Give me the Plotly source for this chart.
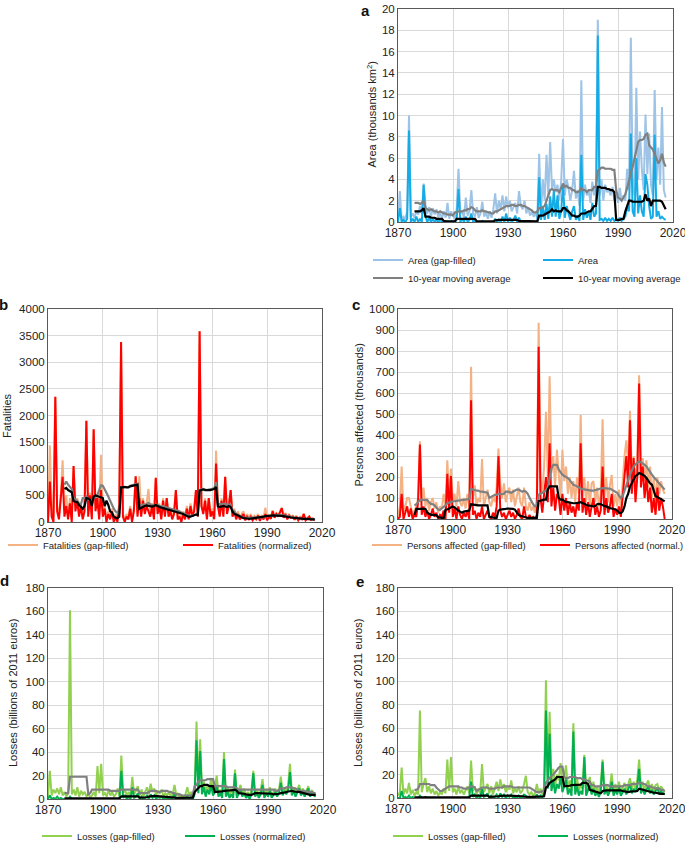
import plotly.graph_objects as go

# ---------------- data ----------------
years = list(range(1870, 2017))      # annual values
ma_years = list(range(1879, 2017))   # 10-year moving averages

# Panel a: flooded area (thousands km2)
area_gf = [
    0.3, 2.9, 0.2, 0.5, 0.3, 1.0, 10.0, 0.5, 0.8, 0.4,
    1.0, 0.7, 1.5, 0.8, 3.6, 1.6, 0.8, 1.4, 0.5, 1.3,
    0.7, 1.2, 0.4, 0.9, 0.3, 1.0, 0.4, 1.8, 0.3, 1.0,
    0.6, 0.3, 1.2, 5.0, 0.8, 1.0, 0.4, 2.3, 0.6, 1.0,
    3.0, 0.8, 0.5, 1.4, 0.4, 0.8, 1.9, 0.5, 0.9, 0.3,
    1.0, 0.4, 1.2, 2.7, 0.8, 2.0, 1.2, 2.5, 1.0, 2.4,
    1.3, 2.0, 1.0, 1.5, 1.8, 0.8, 2.9, 1.5, 1.2, 2.0,
    0.8, 1.4, 0.6, 1.0, 0.5, 0.8, 0.4, 6.4, 1.0, 4.0,
    2.0, 6.3, 2.5, 7.5, 3.0, 4.0, 2.8, 3.5, 2.0, 3.8,
    7.8, 2.5, 4.0, 3.2, 2.0, 3.0, 4.8, 2.2, 3.0, 1.5,
    13.3, 2.0, 3.5, 2.5, 3.0, 1.8, 3.8, 2.5, 3.5, 19.0,
    2.5, 4.0, 2.0, 3.5, 2.8, 3.0, 2.5, 3.3, 2.0, 2.5,
    1.8, 3.2, 2.0, 2.5, 2.0, 5.0, 3.0, 17.3, 4.0, 2.5,
    12.6, 4.0, 8.5, 5.0, 3.0, 10.1, 4.5, 8.3, 3.5, 2.5,
    12.4, 4.0, 7.0, 3.5, 10.8, 3.0, 2.3]
area_n = [
    0, 1.3, 0, 0.2, 0, 0.3, 8.6, 0, 0.3, 0,
    0.5, 0, 0.3, 0, 3.5, 0.5, 0, 0.4, 0, 0.3,
    0, 0.2, 0, 0.2, 0, 0.1, 0, 0.1, 0, 0.1,
    0, 0, 0.2, 3.1, 0, 0.3, 0, 0.5, 0, 0.2,
    0.8, 0, 0.2, 0, 0, 0, 0.1, 0, 0, 0,
    0, 0, 0, 0.3, 0, 0.2, 0, 0.5, 0, 0.8,
    0, 0.4, 0, 0.2, 0.6, 0, 0.4, 0, 0, 0,
    0, 0, 0, 0, 0, 0, 0, 4.2, 0.2, 1.5,
    0.2, 1.7, 0.3, 2.4, 0.5, 3.0, 0.5, 2.5, 0.3, 1.0,
    3.5, 0.4, 1.5, 0.8, 0.2, 1.0, 1.5, 0.2, 0.6, 0.1,
    6.3, 0.2, 1.2, 0.4, 1.0, 0.2, 1.8, 0.5, 0.8, 17.5,
    0.2, 0.3, 0.1, 0.4, 0.1, 0.3, 0.1, 0.4, 0.1, 0.2,
    0.1, 0.4, 0.1, 0.3, 0.5, 1.5, 1.0, 8.3, 1.0, 0.5,
    6.0, 0.8, 2.5, 1.0, 0.5, 4.5, 3.5, 1.5, 0.3, 0.5,
    8.2, 0.5, 1.0, 0.3, 0.5, 0.3, 0.2]
area_ma_gf = [
    1.8,
    1.8, 1.8, 1.7, 1.8, 2.0, 1.3, 1.2, 1.1, 1.2, 1.1,
    1.0, 1.0, 0.9, 1.0, 0.9, 0.8, 0.8, 0.7, 0.7, 0.7,
    0.6, 0.9, 0.9, 1.0, 1.0, 1.0, 1.1, 1.1, 1.2, 1.2,
    1.4, 1.3, 1.1, 1.0, 1.0, 1.0, 1.1, 1.0, 1.0, 0.9,
    0.9, 0.8, 0.8, 1.0, 1.0, 1.1, 1.2, 1.3, 1.4, 1.5,
    1.5, 1.5, 1.6, 1.6, 1.5, 1.5, 1.6, 1.6, 1.5, 1.5,
    1.4, 1.3, 1.2, 1.1, 0.9, 0.9, 1.0, 1.3, 1.3, 1.4,
    1.5, 2.0, 2.5, 3.0, 3.1, 3.0, 3.0, 3.0, 2.8, 3.2,
    3.6, 3.3, 3.4, 3.2, 3.2, 3.0, 3.0, 2.8, 2.8, 2.9,
    3.2, 3.0, 3.0, 2.8, 3.0, 3.0, 3.0, 3.3, 3.3, 4.8,
    5.0, 5.1, 5.1, 5.0, 5.0, 5.0, 5.0, 4.9, 4.9, 3.0,
    2.3, 2.2, 2.0, 2.3, 2.6, 3.2, 4.0, 4.6, 5.2, 6.0,
    6.5, 7.5, 7.7, 7.7, 7.8, 8.2, 8.3, 7.2, 7.0, 6.8,
    6.4, 6.0, 5.5, 5.8, 6.4, 5.6, 5.2]
area_ma_n = [
    1.0,
    1.0, 1.0, 1.0, 1.1, 1.3, 0.5, 0.5, 0.5, 0.4, 0.4,
    0.4, 0.3, 0.3, 0.3, 0.3, 0.1, 0.05, 0.05, 0.05, 0.05,
    0.05, 0.05, 0.3, 0.3, 0.3, 0.3, 0.3, 0.3, 0.3, 0.3,
    0.3, 0.3, 0.3, 0.05, 0.05, 0.05, 0.05, 0.05, 0.05, 0.05,
    0.05, 0.05, 0.05, 0.15, 0.2, 0.2, 0.2, 0.2, 0.2, 0.2,
    0.2, 0.25, 0.2, 0.2, 0.2, 0.2, 0.1, 0.1, 0.1, 0.1,
    0.1, 0.1, 0.05, 0.05, 0.05, 0.05, 0.05, 0.6, 0.6, 0.6,
    0.7, 0.8, 0.9, 1.0, 1.2, 1.0, 1.1, 1.0, 1.0, 1.0,
    1.3, 1.3, 1.1, 1.0, 0.8, 0.6, 0.6, 0.5, 0.5, 0.6,
    0.8, 0.8, 0.8, 0.9, 1.0, 1.0, 1.2, 1.5, 1.5, 3.3,
    3.3, 3.2, 3.2, 3.2, 3.1, 3.1, 3.0, 3.0, 2.8, 0.2,
    0.2, 0.2, 0.3, 0.3, 1.0, 1.5, 2.0, 2.0, 1.9, 1.9,
    1.9, 1.9, 1.9, 1.9, 2.0, 2.6, 2.0, 2.2, 1.5, 2.0,
    2.0, 2.0, 2.0, 2.0, 1.9, 1.5, 1.2]

# Panel b: fatalities
fat_gf = [
    0, 1440, 300, 100, 2350, 300, 100, 500, 1160, 200,
    500, 100, 450, 50, 1050, 300, 450, 200, 350, 100,
    300, 1900, 200, 550, 100, 1740, 300, 500, 100, 1260,
    200, 300, 50, 200, 100, 250, 50, 150, 50, 350,
    3380, 150, 50, 150, 100, 300, 50, 250, 860, 150,
    860, 150, 450, 200, 350, 620, 150, 350, 100, 830,
    200, 350, 100, 450, 150, 450, 150, 250, 100, 200,
    600, 100, 150, 50, 200, 100, 300, 100, 350, 150,
    250, 600, 150, 3580, 350, 200, 450, 100, 450, 150,
    250, 100, 1340, 350, 150, 450, 150, 850, 200, 350,
    600, 150, 250, 100, 200, 80, 150, 200, 60, 150,
    80, 150, 60, 120, 80, 150, 50, 130, 80, 270,
    60, 130, 90, 220, 110, 170, 130, 200, 270, 100,
    170, 80, 140, 100, 120, 60, 120, 50, 100, 70,
    160, 50, 80, 110, 60, 70, 40]
fat_n = [
    0, 760, 100, 0, 2350, 200, 50, 400, 850, 100,
    300, 50, 350, 0, 1050, 200, 400, 100, 300, 50,
    200, 1900, 100, 500, 50, 1740, 200, 450, 50, 600,
    100, 250, 0, 150, 50, 200, 0, 100, 0, 300,
    3380, 100, 0, 100, 50, 250, 0, 200, 860, 100,
    450, 100, 400, 150, 300, 200, 100, 300, 50, 830,
    150, 300, 50, 400, 100, 450, 100, 200, 50, 150,
    600, 50, 100, 0, 150, 50, 250, 50, 300, 100,
    200, 600, 100, 3580, 300, 150, 400, 50, 450, 100,
    200, 50, 1100, 300, 100, 400, 100, 850, 150, 300,
    600, 100, 200, 50, 150, 50, 100, 150, 30, 100,
    50, 100, 30, 80, 50, 120, 20, 100, 50, 150,
    30, 100, 60, 200, 80, 150, 100, 180, 260, 80,
    150, 50, 120, 80, 100, 40, 100, 30, 80, 50,
    150, 30, 60, 100, 40, 60, 30]
fat_ma_gf = [
    700,
    760, 700, 650, 620, 450, 420, 400, 350, 330, 450,
    450, 480, 430, 400, 400, 450, 470, 500, 600, 690,
    680, 600, 550, 480, 400, 300, 250, 200, 180, 150,
    650, 650, 660, 660, 660, 680, 690, 700, 720, 720,
    300, 320, 330, 320, 340, 360, 330, 320, 310, 320,
    320, 300, 290, 300, 280, 270, 260, 250, 240, 230,
    230, 220, 200, 180, 160, 150, 130, 120, 110, 120,
    130, 140, 150, 600, 610, 620, 610, 600, 610, 620,
    620, 630, 750, 330, 340, 330, 340, 350, 320, 330,
    320, 220, 200, 150, 130, 110, 90, 80, 80, 80,
    75, 75, 75, 75, 80, 80, 80, 85, 90, 110,
    110, 115, 120, 130, 130, 130, 130, 130, 130, 120,
    120, 110, 100, 100, 90, 80, 70, 70, 60, 60,
    60, 60, 60, 55, 55, 55, 55]
fat_ma_n = [
    620,
    640, 600, 580, 560, 390, 380, 370, 320, 280, 250,
    300, 450, 440, 420, 300, 480, 500, 490, 480, 470,
    450, 300, 400, 320, 200, 180, 100, 80, 70, 100,
    650, 650, 660, 650, 650, 670, 680, 690, 700, 700,
    250, 270, 290, 300, 310, 300, 300, 290, 300, 320,
    300, 280, 270, 260, 250, 250, 240, 230, 220, 210,
    200, 190, 180, 160, 150, 130, 110, 100, 100, 110,
    120, 140, 130, 590, 600, 610, 600, 600, 590, 600,
    610, 620, 660, 300, 280, 290, 300, 290, 280, 300,
    280, 200, 150, 140, 120, 100, 80, 70, 70, 60,
    60, 65, 70, 65, 70, 75, 80, 90, 100, 110,
    110, 115, 120, 125, 125, 125, 120, 120, 115, 110,
    100, 95, 90, 85, 80, 75, 70, 65, 60, 60,
    60, 60, 55, 55, 50, 50, 50]

# Panel c: persons affected (thousands)
pers_gf = [
    0, 60, 250, 30, 60, 100, 100, 60, 20, 40,
    60, 100, 370, 80, 150, 60, 100, 40, 80, 100,
    50, 80, 30, 60, 50, 120, 60, 280, 100, 240,
    80, 120, 60, 180, 80, 60, 100, 50, 120, 60,
    725, 100, 160, 60, 100, 80, 285, 60, 100, 140,
    80, 60, 110, 80, 150, 335, 170, 100, 170, 80,
    120, 150, 80, 140, 60, 100, 150, 80, 60, 150,
    60, 40, 80, 40, 60, 30, 100, 935, 200, 120,
    250, 510, 200, 680, 220, 300, 150, 330, 200, 100,
    330, 180, 250, 120, 200, 100, 180, 80, 200, 120,
    495, 100, 200, 80, 180, 60, 170, 180, 80, 150,
    60, 120, 475, 100, 200, 80, 160, 210, 60, 120,
    60, 140, 50, 200, 300, 375, 250, 515, 200, 300,
    150, 280, 685, 220, 290, 180, 280, 150, 250, 100,
    200, 80, 200, 120, 180, 140, 120]
pers_n = [
    0, 10, 120, 0, 30, 60, 10, 50, 0, 20,
    10, 80, 355, 20, 60, 10, 40, 0, 20, 50,
    10, 30, 0, 20, 10, 40, 0, 215, 30, 205,
    10, 50, 0, 60, 20, 0, 30, 10, 40, 0,
    565, 20, 40, 0, 30, 10, 60, 0, 20, 40,
    10, 0, 30, 10, 60, 300, 40, 10, 30, 0,
    20, 40, 10, 30, 0, 20, 50, 10, 0, 60,
    10, 0, 20, 0, 10, 0, 20, 820, 100, 30,
    120, 200, 80, 360, 60, 150, 40, 120, 100, 20,
    120, 40, 100, 20, 80, 30, 60, 10, 80, 40,
    360, 30, 100, 20, 80, 10, 60, 100, 20, 60,
    10, 40, 250, 20, 100, 30, 60, 120, 10, 50,
    20, 60, 10, 100, 200, 300, 150, 470, 120, 290,
    80, 200, 645, 150, 250, 100, 200, 80, 150, 30,
    100, 20, 150, 40, 100, 60, 0]
pers_ma_gf = [
    65,
    70, 80, 90, 92, 92, 92, 90, 80, 72, 70,
    65, 55, 45, 44, 50, 60, 65, 75, 79, 82,
    84, 85, 86, 88, 90, 90, 92, 92, 95, 95,
    143, 140, 135, 135, 135, 130, 130, 128, 125, 125,
    100, 105, 110, 115, 115, 120, 120, 118, 120, 130,
    130, 128, 125, 130, 135, 140, 140, 135, 130, 135,
    130, 120, 100, 85, 70, 60, 65, 116, 120, 125,
    132, 135, 150, 195, 240, 258, 258, 258, 235, 220,
    211, 205, 200, 195, 185, 175, 163, 160, 155, 147,
    145, 142, 140, 140, 138, 136, 135, 135, 138, 140,
    142, 145, 147, 147, 145, 145, 145, 140, 135, 130,
    125, 110, 100, 110, 132, 160, 185, 211, 230, 250,
    260, 270, 275, 270, 265, 258, 250, 235, 220, 211,
    200, 190, 179, 165, 155, 145, 140]
pers_ma_n = [
    20,
    48, 48, 48, 48, 48, 48, 30, 25, 20, 20,
    20, 18, 8, 5, 5, 5, 44, 45, 50, 55,
    60, 55, 45, 40, 35, 30, 35, 37, 37, 40,
    70, 68, 66, 65, 65, 65, 65, 65, 65, 65,
    10, 8, 5, 5, 5, 40, 45, 45, 48, 48,
    50, 50, 48, 48, 45, 30, 20, 15, 12, 10,
    8, 5, 5, 5, 5, 5, 5, 85, 88, 90,
    92, 92, 139, 155, 155, 155, 155, 155, 100, 92,
    92, 85, 80, 80, 78, 75, 75, 75, 75, 78,
    80, 75, 70, 68, 65, 65, 62, 60, 62, 70,
    72, 70, 65, 62, 60, 55, 52, 50, 48, 45,
    40, 30, 28, 36, 60, 100, 120, 155, 170, 190,
    205, 210, 219, 215, 210, 205, 195, 180, 170, 163,
    140, 108, 105, 100, 95, 90, 84]

# Panel d: losses (billions of 2011 euros)
lossd_gf = [
    2, 24, 3, 8, 5, 9, 4, 10, 3, 6,
    2, 5, 161, 4, 8, 3, 10, 2, 7, 4,
    6, 2, 5, 1, 3, 6, 2, 28, 5, 30,
    3, 5, 2, 8, 3, 6, 2, 4, 9, 3,
    37, 5, 8, 3, 6, 2, 19, 4, 7, 11,
    3, 8, 2, 6, 10, 4, 13, 6, 9, 3,
    7, 5, 8, 2, 5, 3, 6, 2, 4, 12,
    3, 5, 1, 3, 2, 4, 10, 3, 6, 2,
    8, 66, 10, 51, 8, 15, 5, 12, 8, 18,
    6, 10, 20, 5, 8, 3, 40, 5, 10, 3,
    8, 4, 25, 3, 8, 12, 4, 9, 3, 6,
    2, 8, 24, 4, 8, 3, 7, 17, 3, 8,
    4, 10, 3, 6, 9, 4, 8, 19, 5, 10,
    6, 12, 30, 5, 10, 4, 8, 12, 5, 9,
    3, 8, 11, 4, 7, 5, 3]
lossd_n = [
    0, 3, 0, 1, 0, 2, 0, 1, 0, 0,
    0, 0, 2, 0, 0, 0, 0, 0, 0, 0,
    0, 0, 0, 0, 0, 0, 0, 0, 0, 0,
    0, 0, 0, 0, 0, 0, 0, 0, 0, 1,
    24, 1, 3, 0, 2, 0, 10, 1, 2, 5,
    0, 2, 0, 1, 3, 0, 4, 1, 3, 0,
    2, 1, 2, 0, 1, 0, 1, 0, 1, 4,
    0, 1, 0, 1, 0, 1, 3, 0, 2, 0,
    4, 50, 5, 41, 4, 10, 2, 8, 4, 12,
    3, 6, 12, 2, 5, 1, 34, 2, 6, 1,
    4, 1, 22, 1, 5, 8, 2, 5, 1, 3,
    0, 4, 22, 2, 5, 1, 4, 12, 1, 5,
    2, 7, 1, 3, 6, 2, 5, 14, 3, 7,
    4, 8, 23, 3, 7, 2, 5, 9, 3, 6,
    2, 5, 9, 2, 5, 3, 2]
lossd_ma_gf = [
    5,
    5, 5, 19, 19, 19, 19, 19, 19, 19, 19,
    19, 19, 4, 5, 8, 8, 8, 8, 8, 8,
    8, 8, 8, 8, 7, 7, 7, 7, 7, 7,
    8, 8, 8, 8, 8, 8, 8, 8, 8, 8,
    5, 5, 5, 5, 5, 6, 7, 7, 7, 7,
    6, 6, 7, 7, 7, 7, 6, 6, 5, 5,
    4, 4, 4, 3, 3, 3, 3, 3, 3, 4,
    11, 12, 15, 16, 16, 16, 16, 17, 17, 17,
    17, 11, 11, 11, 11, 11, 11, 11, 10, 10,
    10, 10, 10, 9, 8, 8, 8, 8, 8, 8,
    8, 8, 8, 8, 8, 8, 8, 8, 8, 8,
    8, 8, 8, 8, 7, 7, 8, 9, 9, 9,
    10, 10, 10, 10, 9, 9, 8, 7, 7, 7,
    7, 6, 6, 6, 6, 5, 5]
lossd_ma_n = [
    0.5,
    0.5, 0.5, 0.5, 0.5, 0.5, 0.5, 0.5, 0.5, 0.5, 0.5,
    0.5, 0.5, 0.5, 0.5, 0.5, 0.5, 0.5, 0.5, 0.5, 0.5,
    0.5, 0.5, 0.5, 0.5, 0.5, 0.5, 0.5, 0.5, 0.5, 0.6,
    2.2, 2.2, 2.3, 2.3, 2.3, 2.2, 2.3, 2.3, 2.2, 2.3,
    1.2, 1.2, 1.0, 1.2, 1.5, 2.0, 2.5, 2.5, 2.6, 2.5,
    2.5, 2.4, 2.4, 2.3, 2.3, 2.2, 2.0, 1.8, 1.5, 1.2,
    1.0, 1.0, 1.0, 1.0, 1.0, 1.0, 1.2, 1.2, 1.2, 1.2,
    6, 8, 10, 11, 11, 12, 12, 12, 11, 11,
    11, 6, 6, 6.5, 6.5, 6.5, 7, 7, 7, 7,
    7, 7.5, 8, 7, 5, 5, 5, 4.5, 4, 3.5,
    3.5, 3.5, 4.5, 5, 5, 5, 5, 5, 5, 4.5,
    4.5, 4.5, 4.5, 4, 4, 4, 4.5, 5, 5, 5.5,
    6, 6.5, 7, 7, 6.5, 6, 6, 6, 5.5, 5,
    4.5, 4, 4, 3.5, 3.5, 3.5, 3.5]

# Panel e: losses (billions of 2011 euros)
losse_gf = [
    2, 5, 26, 3, 8, 4, 13, 3, 7, 2,
    5, 3, 75, 5, 12, 17, 5, 10, 4, 8,
    3, 6, 2, 5, 3, 8, 4, 33, 6, 35,
    5, 8, 3, 10, 4, 7, 3, 6, 10, 4,
    32, 6, 10, 3, 8, 4, 29, 5, 9, 12,
    4, 10, 3, 8, 14, 6, 16, 8, 12, 5,
    10, 7, 15, 4, 8, 5, 10, 4, 6, 12,
    19, 5, 3, 5, 2, 4, 12, 4, 8, 3,
    10, 101, 15, 74, 12, 25, 10, 20, 15, 30,
    12, 18, 28, 8, 15, 6, 64, 8, 18, 5,
    12, 8, 37, 5, 12, 18, 6, 14, 5, 10,
    3, 12, 33, 6, 12, 4, 10, 21, 4, 12,
    6, 14, 5, 10, 13, 6, 12, 17, 8, 14,
    8, 16, 33, 8, 14, 6, 12, 15, 7, 12,
    5, 11, 12, 6, 10, 7, 5]
losse_n = [
    0, 0, 6, 0, 1, 0, 2, 0, 1, 0,
    0, 0, 2, 0, 0, 1, 0, 0, 0, 0,
    0, 0, 0, 0, 0, 0, 0, 0, 0, 0,
    0, 0, 0, 0, 0, 0, 0, 0, 0, 1,
    14, 1, 3, 0, 2, 0, 8, 1, 2, 4,
    0, 2, 0, 1, 3, 0, 4, 1, 3, 0,
    2, 1, 3, 0, 1, 0, 2, 0, 1, 3,
    2, 0, 1, 0, 1, 0, 3, 0, 2, 0,
    4, 75, 8, 55, 6, 15, 4, 12, 8, 18,
    5, 10, 16, 3, 8, 2, 57, 3, 10, 2,
    6, 3, 35, 2, 7, 11, 3, 8, 2, 5,
    1, 6, 31, 3, 7, 2, 6, 14, 2, 7,
    3, 9, 2, 5, 8, 3, 7, 12, 4, 8,
    5, 10, 25, 4, 8, 3, 7, 10, 4, 7,
    3, 6, 9, 3, 6, 4, 3]
losse_ma_gf = [
    7,
    7, 8, 12, 12, 12, 12, 12, 12, 11, 11,
    11, 9, 7, 6, 6, 7, 8, 9, 10, 10,
    10, 10, 10, 10, 9, 9, 8, 8, 8, 9,
    10, 10, 9, 6, 7, 8, 9, 9, 9, 9,
    8, 8, 8, 8, 9, 9, 9, 9, 10, 10,
    10, 10, 10, 9, 9, 9, 9, 9, 9, 9,
    9, 9, 9, 8, 7, 6, 5, 5, 5, 6,
    6, 13, 15, 18, 19, 20, 22, 25, 26, 27,
    27, 18, 17, 17, 18, 18, 18, 18, 17, 17,
    17, 16, 16, 15, 15, 14, 11, 11, 10, 10,
    10, 10, 11, 11, 11, 11, 10, 10, 10, 10,
    10, 10, 10, 10, 11, 11, 11, 11, 12, 12,
    12, 12, 13, 13, 12, 12, 11, 10, 10, 9,
    9, 8, 8, 8, 7, 7, 6]
losse_ma_n = [
    0.5,
    0.5, 0.5, 0.5, 0.5, 0.5, 0.5, 0.5, 0.5, 0.5, 0.5,
    0.5, 0.5, 0.5, 0.5, 0.5, 0.5, 0.5, 0.5, 0.5, 0.5,
    0.5, 0.5, 0.5, 0.5, 0.5, 0.5, 0.5, 0.5, 0.5, 0.6,
    2, 2, 2, 2, 2, 2, 2, 2, 2, 2,
    1, 1, 1, 1.2, 1.5, 1.5, 1.8, 2, 2, 2,
    2, 2, 2, 2, 2, 2, 2, 1.8, 1.5, 1.2,
    1, 1, 1, 1, 1, 1, 1, 1, 1, 1.2,
    1.5, 9, 10, 13, 14, 15, 16, 18, 18, 18,
    18, 10, 10, 10, 10.5, 11, 11, 11, 11, 11,
    11.5, 13, 13, 13, 12, 7, 6.5, 6, 5.5, 5,
    4.5, 4, 6, 6.5, 6.5, 6.5, 6.5, 7, 7, 7,
    7, 7, 6.5, 6, 5.5, 5, 5, 5.5, 5.5, 5.5,
    6, 6, 8, 7.5, 7, 6.5, 6, 5.5, 5, 5,
    4.5, 4.5, 4, 4, 3.5, 3.5, 3.5]

x_ticks = [1870, 1900, 1930, 1960, 1990, 2020]

for s in [area_gf, area_n, fat_gf, fat_n, pers_gf, pers_n, lossd_gf, lossd_n, losse_gf, losse_n]:
    assert len(s) == len(years), len(s)
for s in [area_ma_gf, area_ma_n, fat_ma_gf, fat_ma_n, pers_ma_gf, pers_ma_n,
          lossd_ma_gf, lossd_ma_n, losse_ma_gf, losse_ma_n]:
    assert len(s) == len(ma_years), len(s)

# ---------------- styling ----------------
W, H = 685, 842
FONT = "Liberation Sans, Arial, Helvetica, sans-serif"
C_AREA_GF = "#9DC3E6"
C_AREA = "#14ACE6"
C_FAT_GF = "#F4B183"
C_RED = "#FF0000"
C_LGF = "#92D050"
C_LN = "#00B050"
C_GRAY = "#808080"
C_BLACK = "#000000"

# plot-area boxes in pixels: left, right, top, bottom
boxes = {
    1: (398, 673, 9, 222),
    2: (48, 322, 309, 522),
    3: (398, 672, 309, 519),
    4: (48, 323, 588, 799),
    5: (398, 672, 588, 798),
}
yspec = {
    1: (20, 2),
    2: (4000, 500),
    3: (1000, 100),
    4: (180, 20),
    5: (180, 20),
}
# y-axis titles: text, centre x px, centre y px
ytitles = {
    1: ("Area (thousands km<sup>2</sup>)", 371.5, 115),
    2: ("Fatalities", 7, 416),
    3: ("Persons affected (thousands)", 358.5, 415),
    4: ("Losses (billions of 2011 euros)", 13, 693),
    5: ("Losses (billions of 2011 euros)", 358, 693),
}

fig = go.Figure()


def add(idx, x, y, color, width, name=None, legend=None):
    sfx = "" if idx == 1 else str(idx)
    fig.add_trace(go.Scatter(
        x=x, y=y, mode="lines", name=name or "10-year moving average",
        line=dict(color=color, width=width),
        xaxis="x" + sfx, yaxis="y" + sfx,
        showlegend=legend is not None,
        legend=legend if legend is not None else "legend",
        hoverinfo="x+y"))


# panel a
add(1, years, area_gf, C_AREA_GF, 2, "Area (gap-filled)", "legend")
add(1, years, area_n, C_AREA, 2, "Area", "legend2")
add(1, ma_years, area_ma_gf, C_GRAY, 2.2, "10-year moving average", "legend3")
add(1, ma_years, area_ma_n, C_BLACK, 2.2, "10-year moving average", "legend4")
# panel b
add(2, years, fat_gf, C_FAT_GF, 2, "Fatalities (gap-filled)", "legend5")
add(2, years, fat_n, C_RED, 2, "Fatalities (normalized)", "legend6")
add(2, ma_years, fat_ma_gf, C_GRAY, 2.2)
add(2, ma_years, fat_ma_n, C_BLACK, 2.2)
# panel c
add(3, years, pers_gf, C_FAT_GF, 2, "Persons affected (gap-filled)", "legend7")
add(3, years, pers_n, C_RED, 2, "Persons affected (normal.)", "legend8")
add(3, ma_years, pers_ma_gf, C_GRAY, 2.2)
add(3, ma_years, pers_ma_n, C_BLACK, 2.2)
# panel d
add(4, years, lossd_gf, C_LGF, 2, "Losses (gap-filled)", "legend9")
add(4, years, lossd_n, C_LN, 2, "Losses (normalized)", "legend10")
add(4, ma_years, lossd_ma_gf, C_GRAY, 2.2)
add(4, ma_years, lossd_ma_n, C_BLACK, 2.2)
# panel e
add(5, years, losse_gf, C_LGF, 2, "Losses (gap-filled)", "legend11")
add(5, years, losse_n, C_LN, 2, "Losses (normalized)", "legend12")
add(5, ma_years, losse_ma_gf, C_GRAY, 2.2)
add(5, ma_years, losse_ma_n, C_BLACK, 2.2)

layout = dict(
    width=W, height=H, margin=dict(l=0, r=0, t=0, b=0, autoexpand=False),
    paper_bgcolor="white", plot_bgcolor="white",
    font=dict(family=FONT, size=12, color="#222222"),
    showlegend=True,
)

for idx, (l, r, t, b) in boxes.items():
    sfx = "" if idx == 1 else str(idx)
    ymax, dy = yspec[idx]
    layout["xaxis" + sfx] = dict(
        domain=[l / W, r / W], anchor="y" + sfx, range=[1870, 2020],
        tickvals=x_ticks, showgrid=True, gridcolor="#D9D9D9", gridwidth=1,
        showline=True, mirror=True, linecolor="#595959", linewidth=1,
        zeroline=False, ticks="", tickfont=dict(size=12, color="#222222"),
        ticklabeloverflow="allow", automargin=False, fixedrange=True)
    layout["yaxis" + sfx] = dict(
        domain=[1 - b / H, 1 - t / H], anchor="x" + sfx, range=[0, ymax],
        dtick=dy, tick0=0, showgrid=True, gridcolor="#D9D9D9", gridwidth=1,
        showline=True, mirror=True, linecolor="#595959", linewidth=1,
        zeroline=False, ticks="", tickfont=dict(size=11.5, color="#222222"),
        ticklabeloverflow="allow", automargin=False, fixedrange=True)

# legends: (line start px, row centre px, font size)
leg_pos = {
    "legend": (373, 260, 9.5), "legend2": (543, 260, 9.5),
    "legend3": (373, 278, 9.5), "legend4": (543, 278, 9.5),
    "legend5": (8, 545, 9.5), "legend6": (183, 545, 9.5),
    "legend7": (372, 545, 9.5), "legend8": (540, 545, 9.2),
    "legend9": (42, 836, 9.5), "legend10": (185, 836, 9.5),
    "legend11": (393, 836, 9.5), "legend12": (538, 836, 9.5),
}
for key, (px, py, fs) in leg_pos.items():
    layout[key] = dict(
        x=(px - 5) / W, y=1 - py / H, xanchor="left", yanchor="middle",
        xref="container", yref="container",
        bgcolor="rgba(0,0,0,0)", borderwidth=0,
        font=dict(family=FONT, size=fs, color="#222222"),
        itemwidth=30, orientation="v")

fig.update_layout(**layout)

for idx, (text, px, py) in ytitles.items():
    fig.add_annotation(text=text, x=px / W, y=1 - py / H, xref="paper", yref="paper",
                       xanchor="center", yanchor="middle", textangle=-90,
                       showarrow=False, font=dict(family=FONT, size=11, color="#222222"))

# panel letters: (centre x px, y px, vertical anchor)
letters = {"a": (365.5, 0, "top"), "b": (4, 304, "middle"), "c": (355.5, 304, "middle"),
           "d": (4.5, 580.5, "middle"), "e": (360, 581.5, "middle")}
for letter, (px, py, ya) in letters.items():
    fig.add_annotation(text="<b>%s</b>" % letter, x=px / W, y=1 - py / H,
                       xref="paper", yref="paper", xanchor="center", yanchor=ya,
                       showarrow=False, font=dict(family=FONT, size=15, color="#111111"))

fig.write_html("out.html", config={"displayModeBar": False},
               post_script="document.body.style.margin='0px';document.body.style.padding='0px';")
